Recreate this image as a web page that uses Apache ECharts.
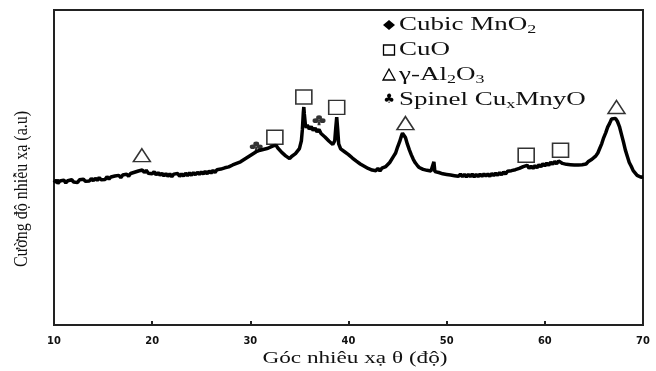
<!DOCTYPE html>
<html>
<head>
<meta charset="utf-8">
<script src="https://cdn.jsdelivr.net/npm/echarts@6/dist/echarts.min.js"></script>
<style>
  html, body { margin: 0; padding: 0; background: #fff; }
  #chart { width: 656px; height: 371px; }
</style>
</head>
<body>
<div id="chart"></div>
<script>
// 2θ axis ticks
const xTicks = [10, 20, 30, 40, 50, 60, 70];

// XRD scan: [2θ (deg), intensity (a.u.)]
const scan = [
  [10.0,45.2],[10.2,45.9],[10.4,45.0],[10.6,45.7],[10.8,45.2],[11.0,46.0],[11.2,45.1],[11.4,45.8],[11.6,45.3],[11.8,46.1],
  [12.0,45.4],[12.2,46.0],[12.4,45.2],[12.6,46.1],[12.8,45.5],[13.0,46.3],[13.2,45.6],[13.4,46.2],[13.6,45.7],[13.8,46.5],
  [14.0,45.8],[14.2,46.6],[14.4,45.9],[14.6,46.8],[14.8,46.1],[15.0,46.7],[15.2,46.2],[15.4,47.1],[15.6,46.3],[15.8,47.0],
  [16.0,46.5],[16.2,47.3],[16.4,46.7],[16.6,47.5],[16.8,46.8],[17.0,47.6],[17.2,47.0],[17.4,47.9],[17.6,47.2],[17.8,48.1],
  [18.0,47.6],[18.2,48.5],[18.4,47.9],[18.6,48.9],[18.8,48.3],[19.0,49.2],[19.2,48.4],[19.4,49.1],[19.6,48.2],[19.8,48.8],
  [20.0,48.0],[20.2,48.7],[20.4,47.7],[20.6,48.4],[20.8,47.5],[21.0,48.2],[21.2,47.3],[21.4,48.1],[21.6,47.2],[21.8,48.0],
  [22.0,47.1],[22.2,47.9],[22.4,47.3],[22.6,48.1],[22.8,47.2],[23.0,48.0],[23.2,47.3],[23.4,48.2],[23.6,47.4],[23.8,48.3],
  [24.0,47.5],[24.2,48.4],[24.4,47.7],[24.6,48.5],[24.8,47.8],[25.0,48.6],[25.2,47.9],[25.4,48.8],[25.6,48.0],[25.8,48.9],
  [26.0,48.2],[26.2,49.1],[26.4,48.4],[26.6,49.3],[26.8,48.7],[27.0,49.5],[27.2,48.9],[27.4,49.9],[27.6,49.3],[27.8,50.2],
  [28.0,49.9],[28.2,50.8],[28.4,50.3],[28.6,51.3],[28.8,50.8],[29.0,51.8],[29.2,51.6],[29.4,52.6],[29.6,52.4],[29.8,53.4],
  [30.0,53.2],[30.2,54.2],[30.4,54.0],[30.6,55.0],[30.8,54.7],[31.0,55.5],[31.2,54.9],[31.4,55.8],[31.6,55.2],[31.8,56.1],
  [32.0,55.9],[32.2,56.7],[32.4,56.8],[32.6,57.2],[32.8,56.2],[33.0,55.8],[33.2,54.8],[33.4,54.5],[33.6,53.7],[33.8,53.4],
  [34.0,52.8],[34.2,53.5],[34.4,53.3],[34.6,54.4],[34.8,54.7],[35.0,56.0],[35.2,58.5],[35.3,62.0],[35.4,67.5],[35.45,69.2],
  [35.5,67.0],[35.6,63.8],[35.7,62.6],[35.8,63.5],[36.0,62.2],[36.2,63.0],[36.4,61.8],[36.6,62.5],[36.8,61.3],[37.0,62.1],
  [37.2,60.8],[37.4,60.8],[37.6,59.7],[37.8,59.4],[38.0,58.4],[38.2,58.2],[38.4,57.3],[38.6,58.5],[38.7,62.5],[38.8,66.0],
  [38.9,62.0],[39.0,57.5],[39.2,55.9],[39.4,55.8],[39.6,55.0],[39.8,55.1],[40.0,54.1],[40.2,54.1],[40.4,53.0],[40.6,53.1],
  [40.8,52.0],[41.0,52.0],[41.2,51.1],[41.4,51.3],[41.6,50.4],[41.8,50.6],[42.0,49.7],[42.2,50.0],[42.4,49.2],[42.6,49.8],
  [42.8,49.0],[43.0,49.7],[43.2,48.9],[43.4,49.8],[43.6,49.2],[43.8,50.3],[44.0,50.5],[44.2,51.6],[44.4,52.1],[44.6,53.6],
  [44.8,54.6],[45.0,56.5],[45.2,58.1],[45.4,60.1],[45.5,60.9],[45.6,60.6],[45.8,59.5],[46.0,57.4],[46.2,55.6],[46.4,54.0],
  [46.6,52.6],[46.8,51.5],[47.0,50.7],[47.2,50.0],[47.4,50.1],[47.6,49.4],[47.8,49.6],[48.0,49.1],[48.2,49.6],[48.4,48.9],
  [48.6,49.4],[48.7,51.8],[48.8,48.7],[49.0,48.9],[49.2,48.4],[49.4,48.8],[49.6,48.0],[49.8,48.6],[50.0,47.8],[50.2,48.4],
  [50.4,47.6],[50.6,48.2],[50.8,47.4],[51.0,48.0],[51.2,47.2],[51.4,47.9],[51.6,47.1],[51.8,47.8],[52.0,47.0],[52.2,47.8],
  [52.4,47.1],[52.6,47.9],[52.8,47.0],[53.0,47.8],[53.2,47.1],[53.4,47.9],[53.6,47.2],[53.8,48.0],[54.0,47.3],[54.2,48.0],
  [54.4,47.2],[54.6,48.1],[54.8,47.4],[55.0,48.2],[55.2,47.5],[55.4,48.4],[55.6,47.7],[55.8,48.6],[56.0,47.9],[56.2,48.8],
  [56.4,48.2],[56.6,49.0],[56.8,48.5],[57.0,49.3],[57.2,48.8],[57.4,49.7],[57.6,49.5],[57.8,50.3],[58.0,50.1],[58.2,50.7],
  [58.4,49.7],[58.6,50.4],[58.8,49.7],[59.0,50.6],[59.2,49.9],[59.4,50.9],[59.6,50.2],[59.8,51.2],[60.0,50.5],[60.2,51.4],
  [60.4,50.7],[60.6,51.7],[60.8,51.0],[61.0,51.9],[61.2,51.2],[61.4,52.1],[61.6,52.3],[61.8,51.3],[62.0,51.6],[62.2,51.0],
  [62.4,51.5],[62.6,50.9],[62.8,51.3],[63.0,50.8],[63.2,51.4],[63.4,50.8],[63.6,51.3],[63.8,50.9],[64.0,51.4],[64.2,51.1],
  [64.4,51.8],[64.6,51.9],[64.8,52.6],[65.0,52.8],[65.2,53.7],[65.4,54.6],[65.6,56.1],[65.8,57.6],[66.0,59.5],[66.2,61.0],
  [66.4,62.8],[66.6,64.0],[66.8,65.4],[67.0,65.7],[67.2,65.6],[67.4,64.6],[67.6,63.0],[67.8,60.6],[68.0,58.2],[68.2,55.6],
  [68.4,53.6],[68.6,51.6],[68.8,50.4],[69.0,49.0],[69.2,48.5],[69.4,47.5],[69.6,47.6],[69.8,46.9],[70.0,47.1]
];

// Phase markers placed above the identified reflections: [2θ, intensity]
const cuoPeaks = [[32.5, 59.6], [35.45, 72.4], [38.8, 69.1], [58.1, 53.9], [61.6, 55.5]];
const aluminaPeaks = [[18.95, 53.9], [45.8, 64.1], [67.3, 69.2]];
const spinelPeaks = [[30.6, 56.7], [37.0, 65.0]];

// Legend entries (rich-text markup for subscripts)
const legendLabels = [
  '{m|Cubic MnO}{s|2}',
  '{m|CuO}',
  '{m|γ-Al}{s|2}{m|O}{s|3}',
  '{m|Spinel Cu}{s|x}{m|MnyO}'
];

const xTitle = 'Góc nhiêu xạ θ (độ)';
const yTitle = 'Cường độ nhiễu xạ (a.u)';

const SERIF = '"Liberation Serif", "Times New Roman", serif';
const clubPath = 'path://M12 2.5a4.5 4.5 0 1 1 0 9a4.5 4.5 0 1 1 0-9Z' +
  'M6.5 8.5a4.5 4.5 0 1 1 0 9a4.5 4.5 0 1 1 0-9Z' +
  'M17.5 8.5a4.5 4.5 0 1 1 0 9a4.5 4.5 0 1 1 0-9Z' +
  'M11 12L9.5 22L14.5 22L13 12Z';

const richStyles = {
  m: { fontFamily: SERIF, fontSize: 18, color: '#111' },
  s: { fontFamily: SERIF, fontSize: 12, color: '#111', padding: [9, 0, 0, 0] }
};

const legendRowsY = [25, 50, 75, 100];
const legendSymbolX = 389;
const legendTextX = 399;

const legendGraphics = [];
legendGraphics.push({
  type: 'polygon', shape: { points: [[legendSymbolX - 6, legendRowsY[0]], [legendSymbolX, legendRowsY[0] - 5], [legendSymbolX + 6, legendRowsY[0]], [legendSymbolX, legendRowsY[0] + 5]] },
  style: { fill: '#000' }
});
legendGraphics.push({
  type: 'rect', shape: { x: legendSymbolX - 5.5, y: legendRowsY[1] - 5, width: 11, height: 10 },
  style: { fill: '#fff', stroke: '#000', lineWidth: 1.3 }
});
legendGraphics.push({
  type: 'polygon', shape: { points: [[legendSymbolX - 6, legendRowsY[2] + 5], [legendSymbolX, legendRowsY[2] - 6], [legendSymbolX + 6, legendRowsY[2] + 5]] },
  style: { fill: '#fff', stroke: '#000', lineWidth: 1.3 }
});
legendGraphics.push({
  type: 'text', x: legendSymbolX, y: legendRowsY[3],
  style: { text: '♣', font: '13px "DejaVu Sans"', fill: '#000', align: 'center', verticalAlign: 'middle', textAlign: 'center', textVerticalAlign: 'middle' }
});
legendLabels.forEach(function (txt, i) {
  legendGraphics.push({
    type: 'text', x: legendTextX, y: legendRowsY[i], scaleX: 1.5,
    style: {
      text: txt, rich: richStyles, fill: '#111',
      align: 'left', verticalAlign: 'middle', textAlign: 'left', textVerticalAlign: 'middle'
    }
  });
});

const chart = echarts.init(document.getElementById('chart'), null, { renderer: 'canvas' });

chart.setOption({
  animation: false,
  backgroundColor: '#fff',
  grid: {
    left: 54, right: 13, top: 10, bottom: 46,
    show: true, borderColor: '#222', borderWidth: 2, backgroundColor: 'transparent'
  },
  xAxis: {
    type: 'value', min: xTicks[0], max: xTicks[xTicks.length - 1], interval: 10,
    axisLine: { show: true, lineStyle: { color: '#222', width: 2 } },
    axisTick: { show: true, inside: true, length: 4, lineStyle: { color: '#222', width: 2 } },
    axisLabel: {
      margin: 11, color: '#111', fontSize: 11, fontWeight: 'bold',
      fontFamily: '"Liberation Sans Narrow", "DejaVu Sans Condensed", "DejaVu Sans", sans-serif'
    },
    splitLine: { show: false }
  },
  yAxis: {
    type: 'value', min: 0, max: 100,
    axisLine: { show: true, lineStyle: { color: '#222', width: 2 } },
    axisTick: { show: true, inside: true, length: 5, customValues: [46], lineStyle: { color: '#222', width: 2 } },
    axisLabel: { show: false },
    splitLine: { show: false }
  },
  series: [
    {
      type: 'line', data: scan, showSymbol: false, symbol: 'none',
      lineStyle: { color: '#000', width: 3.5 }, z: 2
    },
    {
      type: 'scatter', data: cuoPeaks, symbol: 'rect', symbolSize: [16, 14],
      itemStyle: { color: '#fff', borderColor: '#000', borderWidth: 1.5 }, z: 3
    },
    {
      type: 'scatter', data: aluminaPeaks, symbol: 'triangle', symbolSize: [17, 13],
      itemStyle: { color: '#fff', borderColor: '#000', borderWidth: 1.5 }, z: 3
    },
    {
      type: 'scatter', data: spinelPeaks, symbol: clubPath, symbolSize: [13, 10],
      itemStyle: { color: '#000' }, z: 3
    }
  ],
  graphic: [
    {
      type: 'text', x: 355, y: 359, scaleX: 1.45,
      style: {
        text: xTitle, font: '16px ' + SERIF, fill: '#111',
        align: 'center', verticalAlign: 'middle', textAlign: 'center', textVerticalAlign: 'middle'
      }
    },
    {
      type: 'text', x: 22, y: 189, rotation: Math.PI / 2, scaleY: 1.15,
      style: {
        text: yTitle, font: '16px ' + SERIF, fill: '#111',
        align: 'center', verticalAlign: 'middle', textAlign: 'center', textVerticalAlign: 'middle'
      }
    }
  ].concat(legendGraphics)
});
</script>
</body>
</html>
